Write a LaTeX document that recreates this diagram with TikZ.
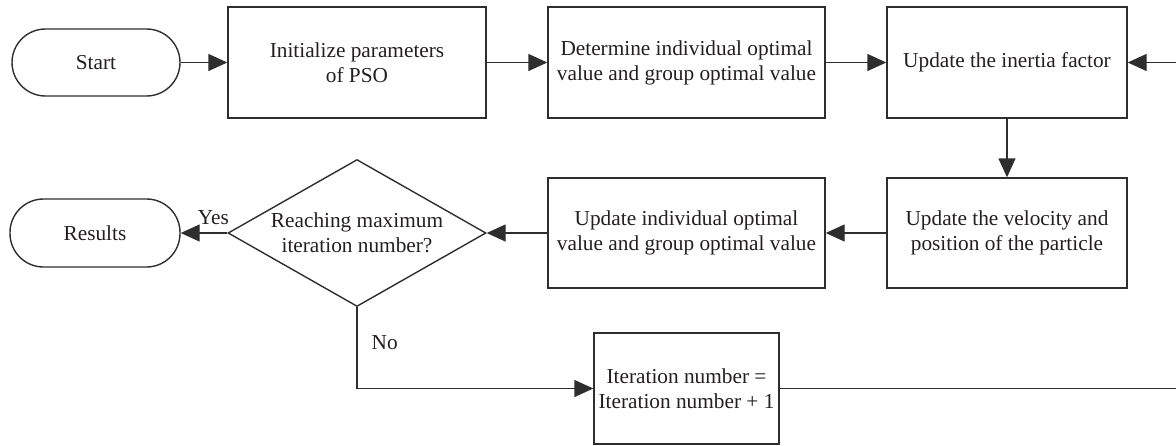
\documentclass[tikz,border=0pt]{standalone}
\usepackage{fontspec}
\setmainfont{Liberation Serif}
\usetikzlibrary{shapes.geometric, arrows.meta}

\definecolor{ink}{HTML}{231F20}
\definecolor{wire}{HTML}{2E2E2E}

\tikzset{
  txt/.style={font=\fontsize{21.3}{25}\selectfont, text=ink},
  proc/.style={txt, draw=wire, line width=1.4pt, rectangle, inner sep=0pt,
    align=center, minimum height=111pt},
  term/.style={txt, draw=wire, line width=1.4pt, rectangle, inner sep=0pt,
    rounded corners=33.5pt, minimum width=168pt, minimum height=67pt},
  decision/.style={txt, draw=wire, line width=1.4pt, diamond, inner sep=0pt,
    minimum width=258pt, minimum height=147pt},
  flow/.style={draw=wire, line width=1.4pt, -{Triangle[length=19pt,width=17pt]}},
  tag/.style={txt, inner sep=0pt}
}

\begin{document}
\begin{tikzpicture}[x=1pt, y=-1pt]
  \useasboundingbox (0,0) rectangle (1176,445);

  % top row
  \node[term] (start) at (96,62.5) {Start};
  \node[proc, minimum width=258pt] (init) at (357,62.5) {Initialize parameters\\of PSO};
  \node[proc, minimum width=277pt] (best) at (686.5,62.5) {Determine individual optimal\\value and group optimal value};
  \node[proc, minimum width=240pt] (inertia) at (1007,62.5) {Update the inertia factor};

  % middle row
  \node[proc, minimum width=240pt, minimum height=110pt] (move) at (1007,233) {Update the velocity and\\position of the particle};
  \node[proc, minimum width=277pt, minimum height=110pt] (upd) at (686.5,233) {Update individual optimal\\value and group optimal value};
  \node[decision, label={[txt, align=center, inner sep=0pt]center:Reaching maximum\\iteration number?}] (check) at (357,233) {};
  \node[term, minimum width=170pt, minimum height=68pt] (res) at (95,233) {Results};

  % bottom row
  \node[proc, minimum width=185pt] (iter) at (686.5,388.5) {Iteration number =\\Iteration number + 1};

  % connectors
  \draw[flow] (start) -- (init);
  \draw[flow] (init) -- (best);
  \draw[flow] (best) -- (inertia);
  \draw[flow] (inertia) -- (move);
  \draw[flow] (move) -- (upd);
  \draw[flow] (upd) -- (check);
  \draw[flow] (check) -- node[tag, pos=0.3, above=8pt] {Yes} (res);
  \draw[flow] (check.south) |- node[tag, pos=0.215, right=14pt] {No} (iter.west);

  % loop back to the inertia update, running along the right edge
  \coordinate (loop) at (1181,388.5);
  \draw[flow] (iter.east) -- (loop) |- (inertia.east);
\end{tikzpicture}
\end{document}
